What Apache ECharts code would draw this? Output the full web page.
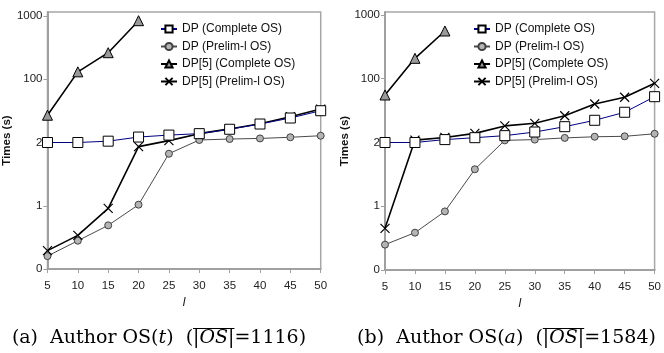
<!DOCTYPE html>
<html>
<head>
<meta charset="utf-8">
<script src="https://cdn.jsdelivr.net/npm/echarts@6/dist/echarts.min.js"></script>
<style>html,body{margin:0;padding:0;background:#fff}#c{width:664px;height:353px}</style>
</head>
<body>
<div id="c"></div>
<script>
// ---- data ----
const lValues = [5, 10, 15, 20, 25, 30, 35, 40, 45, 50];
const seriesNames = ['DP (Complete OS)', 'DP (Prelim-l OS)', 'DP[5] (Complete OS)', 'DP[5] (Prelim-l OS)'];
const yTickValues = [0.1, 1, 10, 100, 1000];
const yTickLabels = ['0', '1', '2', '100', '1000'];

// panel (a) Author OS(t)
const a_dpComplete  = [10, 10, 10.5, 12.2, 13.1, 13.8, 16.2, 19.6, 24.4, 31.8];
const a_dpPrelim    = [0.16, 0.28, 0.49, 1.04, 6.65, 10.96, 11.35, 11.6, 12.1, 12.8];
const a_dp5Complete = [27, 131, 263, 843];
const a_dp5Prelim   = [0.195, 0.34, 0.91, 8.6, 10.7, 13.8, 16.4, 19.8, 25.6, 33.8];

// panel (b) Author OS(a)
const b_dpComplete  = [10, 10, 11.1, 11.9, 12.8, 14.6, 17.7, 22.3, 29.8, 52.3];
const b_dpPrelim    = [0.25, 0.385, 0.83, 3.8, 10.8, 11.1, 11.8, 12.3, 12.5, 13.7];
const b_dp5Complete = [55.6, 209, 561];
const b_dp5Prelim   = [0.45, 10.9, 12.0, 13.9, 18.2, 20, 26.3, 40.2, 51.2, 84.8];

const captions = [
  { label: '(a)', arg: 't', count: '1116' },
  { label: '(b)', arg: 'a', count: '1584' }
];

// ---- helpers ----
const FONT = '"Liberation Sans", Arial, sans-serif';
function pairs(vals) { return vals.map((v, i) => [lValues[i], v]); }

const styles = [
  { lineStyle: { color: '#000080', width: 1 }, symbol: 'rect', symbolSize: 10,
    itemStyle: { color: '#ffffff', borderColor: '#000000', borderWidth: 1 } },
  { lineStyle: { color: '#4a4a4a', width: 1 }, symbol: 'circle', symbolSize: 7,
    itemStyle: { color: '#b4b4b4', borderColor: '#404040', borderWidth: 1 } },
  { lineStyle: { color: '#000000', width: 1.6 }, symbol: 'triangle', symbolSize: 10,
    itemStyle: { color: '#9a9a9a', borderColor: '#000000', borderWidth: 1 } },
  { lineStyle: { color: '#000000', width: 1.6 }, symbol: 'path://M0,0L10,10M10,0L0,10', symbolSize: 9,
    itemStyle: { color: 'rgba(0,0,0,0)', borderColor: '#000000', borderWidth: 1.2 } }
];

const panels = [
  { grid: { left: 46.7, top: 12, width: 274, height: 257 }, ymax: 1157, nameGap: 24,
    data: [a_dpComplete, a_dpPrelim, a_dp5Complete, a_dp5Prelim], legendLeft: 155 },
  { grid: { left: 385, top: 12, width: 274, height: 258 }, ymax: 1114, nameGap: 23,
    data: [b_dpComplete, b_dpPrelim, b_dp5Complete, b_dp5Prelim], legendLeft: 468 }
];

const grids = [], xAxes = [], yAxes = [], series = [], legends = [];
panels.forEach((p, pi) => {
  grids.push(Object.assign({ show: true, borderColor: '#a6a6a6', borderWidth: 1.5, backgroundColor: 'transparent' }, p.grid));
  xAxes.push({
    type: 'value', gridIndex: pi, min: 5, max: 50, interval: 5,
    name: 'l', nameLocation: 'middle', nameGap: 25,
    nameTextStyle: { fontStyle: 'italic', fontSize: 12, fontFamily: FONT, color: '#111' },
    axisLine: { show: true, lineStyle: { color: '#a0a0a0', width: 2 } },
    axisTick: { show: true, length: 4, lineStyle: { color: '#a0a0a0' } },
    axisLabel: { fontSize: 11.5, fontFamily: FONT, color: '#222', margin: 11 },
    splitLine: { show: false }
  });
  yAxes.push({
    type: 'log', logBase: 10, gridIndex: pi, min: 0.1, max: p.ymax,
    name: 'Times (s)', nameLocation: 'middle', nameGap: p.nameGap, nameRotate: 90,
    nameTextStyle: { fontWeight: 'bold', fontSize: 11.5, fontFamily: FONT, color: '#111' },
    axisLine: { show: true, lineStyle: { color: '#a0a0a0', width: 2 } },
    axisTick: { show: true, length: 4, customValues: yTickValues, lineStyle: { color: '#a0a0a0' } },
    axisLabel: { fontSize: 11.5, fontFamily: FONT, color: '#222', margin: 5, customValues: yTickValues,
      formatter: v => { const i = yTickValues.findIndex(t => Math.abs(t - v) / t < 1e-6); return i >= 0 ? yTickLabels[i] : ''; } },
    splitLine: { show: false }
  });
  p.data.forEach((vals, si) => {
    series.push(Object.assign({
      type: 'line', name: seriesNames[si], xAxisIndex: pi, yAxisIndex: pi,
      data: pairs(vals), showSymbol: true, showAllSymbol: true, animation: false,
      emphasis: { disabled: true }, z: 2 + (si === 0 ? 1 : 0)
    }, styles[si]));
  });
  legends.push({
    data: seriesNames, orient: 'vertical', left: p.legendLeft, top: 18,
    itemWidth: 16, itemHeight: 9, itemGap: 5.5, selectedMode: false,
    textStyle: { fontSize: 12, fontFamily: FONT, color: '#111' }
  });
});

// ---- captions (serif, with italic variables and overlined |OS|) ----
const capSize = 19, capFam = '"DejaVu Serif", serif';
const mctx = document.createElement('canvas').getContext('2d');
function mw(t, it) { mctx.font = (it ? 'italic ' : '') + capSize + 'px ' + capFam; return mctx.measureText(t).width; }
const capCenters = [159, 506.5], capY = 338;
const graphics = [];
captions.forEach((c, i) => {
  const pre = c.label + '  Author OS(';
  const mid = ')  (';
  const post = '=' + c.count + ')';
  const wPrefix = mw(pre) + mw(c.arg, true) + mw(mid);
  const wOver = mw('|') * 2 + mw('OS', true);
  const total = wPrefix + wOver + mw(post);
  const x0 = capCenters[i] - total / 2;
  graphics.push({
    type: 'text', x: x0, y: capY, silent: true,
    style: {
      text: pre + '{it|' + c.arg + '}' + mid + '|{it|OS}|' + post,
      font: capSize + 'px ' + capFam, fill: '#000', align: 'left', verticalAlign: 'middle',
      rich: { it: { fontStyle: 'italic', fontSize: capSize, fontFamily: capFam, fill: '#000' } }
    }
  });
  graphics.push({
    type: 'line', silent: true,
    shape: { x1: x0 + wPrefix, y1: capY - 9.5, x2: x0 + wPrefix + wOver, y2: capY - 9.5 },
    style: { stroke: '#000', lineWidth: 1 }
  });
});

const chart = echarts.init(document.getElementById('c'), null, { renderer: 'canvas' });
chart.setOption({
  animation: false,
  backgroundColor: '#fff',
  textStyle: { fontFamily: FONT },
  grid: grids, xAxis: xAxes, yAxis: yAxes, series: series, legend: legends,
  graphic: graphics
});
</script>
</body>
</html>
